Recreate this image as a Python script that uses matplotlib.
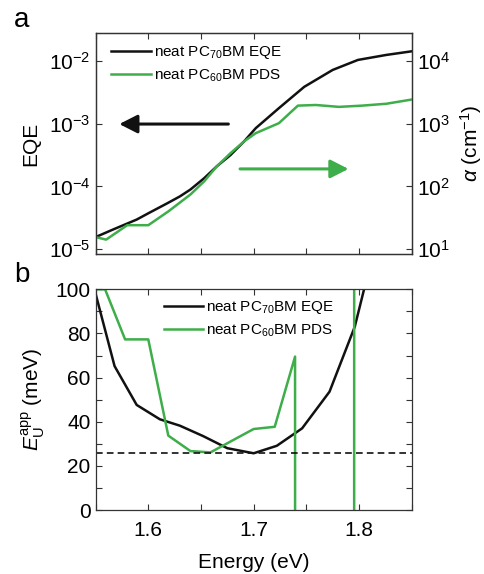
import numpy as np
import matplotlib
matplotlib.use("Agg")
import matplotlib.pyplot as plt
from matplotlib.ticker import MultipleLocator, LogLocator, LogFormatterMathtext, NullLocator, FormatStrFormatter

plt.rcParams['font.family'] = ['Liberation Sans', 'DejaVu Sans']
plt.rcParams['mathtext.fontset'] = 'custom'
plt.rcParams['mathtext.rm'] = 'Liberation Sans'
plt.rcParams['mathtext.it'] = 'Liberation Sans:italic'
plt.rcParams['mathtext.bf'] = 'Liberation Sans:bold'

# ---- data (panel a) ----
eqe_energy = [1.55, 1.565, 1.589, 1.600, 1.618, 1.630, 1.640, 1.653, 1.665, 1.678,
              1.691, 1.702, 1.724, 1.748, 1.775, 1.799, 1.826, 1.851]
eqe_log = [-4.81, -4.70, -4.53, -4.43, -4.27, -4.16, -4.05, -3.87, -3.68, -3.50,
           -3.28, -3.07, -2.75, -2.41, -2.14, -1.98, -1.90, -1.84]
eqe_values = [10 ** v for v in eqe_log]

pds_energy = [1.55, 1.560, 1.580, 1.600, 1.619, 1.640, 1.653, 1.665, 1.678, 1.691,
              1.702, 1.724, 1.742, 1.759, 1.781, 1.803, 1.826, 1.851]
pds_log_alpha = [1.19, 1.15, 1.38, 1.38, 1.60, 1.87, 2.08, 2.32, 2.53, 2.72,
                 2.85, 3.01, 3.29, 3.30, 3.27, 3.29, 3.32, 3.39]
pds_alpha = [10 ** v for v in pds_log_alpha]

# ---- data (panel b) ----
eu_eqe_energy = [1.55, 1.568, 1.589, 1.611, 1.630, 1.652, 1.675, 1.700, 1.722,
                 1.746, 1.772, 1.796, 1.810]
eu_eqe_values = [98, 65.2, 47.6, 41.1, 38.2, 33.5, 28.0, 25.7, 29.1,
                 37.0, 53.6, 83.1, 110]

eu_pds_energy = [1.55, 1.559, 1.578, 1.600, 1.619, 1.640, 1.659, 1.700, 1.720,
                 1.7393, 1.7403, 1.7950, 1.7958, 1.851]
eu_pds_values = [100, 100, 77.3, 77.3, 33.7, 26.7, 26.1, 36.7, 37.7,
                 69.5, -3000, -3000, 3000, 3000]

eu_reference = 25.7

black = '#111111'
green = '#3DAE49'
spine_c = '#333333'

fig = plt.figure(figsize=(4.85, 5.74), dpi=100)
W, H = 485.0, 574.0
def rect(x0, y0, x1, y1):
    return [x0 / W, 1 - y1 / H, (x1 - x0) / W, (y1 - y0) / H]

axa = fig.add_axes(rect(95.6, 33, 411.7, 254))
axb = fig.add_axes(rect(95.6, 289.3, 411.7, 510))

tick_fs = 15
lab_fs = 15
leg_fs = 11

def style(ax):
    for s in ax.spines.values():
        s.set_color(spine_c)
        s.set_linewidth(0.9)
    ax.tick_params(which='both', direction='in', color=spine_c, width=0.8,
                   labelsize=tick_fs, top=True, right=True)
    ax.tick_params(which='major', length=4)
    ax.tick_params(which='minor', length=4)

# ---- panel a ----
axa.plot(eqe_energy, eqe_values, color=black, lw=1.8, label='neat PC$_{70}$BM EQE')
axa.set_yscale('log')
axa.set_xlim(1.55, 1.85)
axa.set_ylim(10 ** -5.08, 10 ** -1.55)
axa.yaxis.set_major_locator(LogLocator(base=10, numticks=10))
axa.yaxis.set_minor_locator(NullLocator())
axa.yaxis.set_major_formatter(LogFormatterMathtext())
axa.xaxis.set_major_locator(MultipleLocator(0.05))
style(axa)
axa.tick_params(axis='y', right=False)
axa.tick_params(axis='x', labelbottom=False)
axa.set_ylabel('EQE', fontsize=lab_fs, labelpad=6)

axa2 = axa.twinx()
axa2.plot(pds_energy, pds_alpha, color=green, lw=1.8)
axa2.set_yscale('log')
axa2.set_ylim(10 ** 0.92, 10 ** 4.45)
axa2.yaxis.set_major_locator(LogLocator(base=10, numticks=10))
axa2.yaxis.set_minor_locator(NullLocator())
axa2.yaxis.set_major_formatter(LogFormatterMathtext())
for s in axa2.spines.values():
    s.set_color(spine_c)
    s.set_linewidth(0.9)
axa2.tick_params(which='both', direction='in', color=spine_c, width=0.8,
                 labelsize=tick_fs, length=4)
axa2.set_ylabel(r'$\it{\alpha}$ (cm$^{-1}$)', fontsize=lab_fs, labelpad=6)

# legend proxies
axa.plot([], [], color=green, lw=1.8, label='neat PC$_{60}$BM PDS')
axa.legend(loc='upper left', bbox_to_anchor=(0.05, 0.95), frameon=False,
           fontsize=leg_fs, handlelength=2.6, handletextpad=0.2, borderpad=0,
           borderaxespad=0, labelspacing=0.4)

arrow_kw = dict(arrowstyle='-|>,head_length=0.55,head_width=0.28', lw=2.2,
                mutation_scale=20, shrinkA=0, shrinkB=0)
axa.annotate('', xy=(0.075, 0.588), xytext=(0.42, 0.588), xycoords='axes fraction',
             arrowprops=dict(color=black, **arrow_kw))
axa.annotate('', xy=(0.80, 0.385), xytext=(0.457, 0.385), xycoords='axes fraction',
             arrowprops=dict(color=green, **arrow_kw))

# ---- panel b ----
axb.plot(eu_eqe_energy, eu_eqe_values, color=black, lw=1.8, label='neat PC$_{70}$BM EQE')
axb.plot(eu_pds_energy, eu_pds_values, color=green, lw=1.8, label='neat PC$_{60}$BM PDS')
axb.axhline(eu_reference, color=black, lw=1.2, ls=(0, (4, 2.5)))
axb.set_xlim(1.55, 1.85)
axb.set_ylim(0, 100)
axb.xaxis.set_major_locator(MultipleLocator(0.1))
axb.xaxis.set_minor_locator(MultipleLocator(0.05))
axb.yaxis.set_major_locator(MultipleLocator(20))
axb.yaxis.set_minor_locator(MultipleLocator(10))
axb.xaxis.set_major_formatter(FormatStrFormatter('%.1f'))
style(axb)
axb.tick_params(axis='x', pad=8)
axb.set_xlabel('Energy (eV)', fontsize=lab_fs, labelpad=9)
axb.set_ylabel(r'$E_{\mathrm{U}}^{\mathrm{app}}$ (meV)', fontsize=lab_fs, labelpad=6)
axb.legend(loc='upper left', bbox_to_anchor=(0.215, 0.955), frameon=False,
           fontsize=leg_fs, handlelength=2.6, handletextpad=0.2, borderpad=0,
           borderaxespad=0, labelspacing=0.4)

fig.text(14 / W, 1 - 27 / H, 'a', fontsize=20, ha='left', va='baseline')
fig.text(14 / W, 1 - 282 / H, 'b', fontsize=20, ha='left', va='baseline')

fig.savefig('out.png', dpi=100)
